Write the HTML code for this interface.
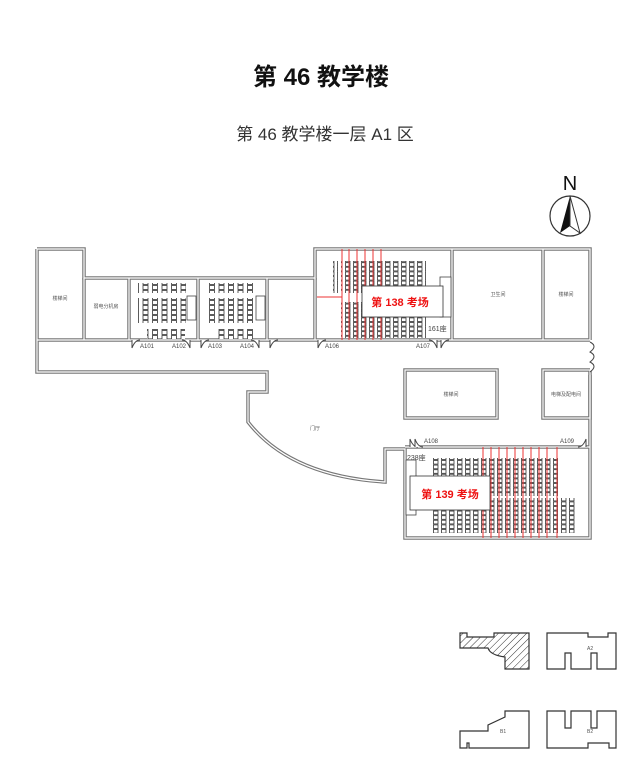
<!DOCTYPE html>
<html><head><meta charset="utf-8"><style>
html,body{margin:0;padding:0;background:#fff;}
svg{display:block;}
text{font-family:"Liberation Sans","Noto Sans CJK SC",sans-serif;}
</style></head><body>
<svg width="641" height="769" viewBox="0 0 641 769" xmlns="http://www.w3.org/2000/svg">
<defs>
<pattern id="d8" x="1" y="0" width="8" height="4.6" patternUnits="userSpaceOnUse">
<rect x="0.5" y="0.5" width="4.5" height="3.6" fill="#fff" stroke="#333" stroke-width="0.8"/>
</pattern>
<pattern id="dA" x="0" y="0" width="9.5" height="5" patternUnits="userSpaceOnUse">
<rect x="0.5" y="0.5" width="5" height="4" fill="#fff" stroke="#333" stroke-width="0.8"/>
</pattern>
<pattern id="hatch" width="5" height="5" patternUnits="userSpaceOnUse" patternTransform="rotate(45)">
<line x1="0" y1="0" x2="0" y2="5" stroke="#333" stroke-width="1"/>
</pattern>
</defs>

<text x="321" y="85" font-size="24" font-weight="bold" text-anchor="middle" fill="#111">第 46 教学楼</text>
<text x="325" y="140" font-size="17" text-anchor="middle" fill="#333">第 46 教学楼一层 A1 区</text>

<text x="570" y="190" font-size="20" text-anchor="middle" fill="#111">N</text>
<circle cx="570" cy="216" r="20" fill="none" stroke="#333" stroke-width="1.2"/>
<polygon points="570,196 560,233 570,226" fill="#111"/>
<polygon points="570,196 580,233 570,226" fill="none" stroke="#333" stroke-width="1"/>

<g fill="none" stroke="#777" stroke-width="3.5">
<path d="M37,249 H84 V278 H315 V249 H590 V340"/>
<path d="M590,375 V538 H405 V449 H385 V482 Q290,476 248,422 V392 H267 V372 H37 V249"/>
<path d="M405,447 H590"/>
<path d="M37,340 H590"/>
<path d="M84,278 V340 M129,278 V340 M198,278 V340 M267,278 V340 M315,278 V340 M452,249 V340 M543,249 V340"/>
<rect x="405" y="370" width="92" height="48"/>
<rect x="543" y="370" width="47" height="48"/>
</g>
<g fill="none" stroke="#fff" stroke-width="1.2">
<path d="M37,249 H84 V278 H315 V249 H590 V340"/>
<path d="M590,375 V538 H405 V449 H385 V482 Q290,476 248,422 V392 H267 V372 H37 V249"/>
<path d="M405,447 H590"/>
<path d="M37,340 H590"/>
<path d="M84,278 V340 M129,278 V340 M198,278 V340 M267,278 V340 M315,278 V340 M452,249 V340 M543,249 V340"/>
<rect x="405" y="370" width="92" height="48"/>
<rect x="543" y="370" width="47" height="48"/>
</g>

<g fill="#fff" stroke="#444" stroke-width="1">
<path d="M132,340 v8 q3,-8 8,-8" /><path d="M190,340 v8 q-3,-8 -8,-8"/>
<path d="M201,340 v8 q3,-8 8,-8" /><path d="M259,340 v8 q-3,-8 -8,-8"/>
<path d="M270,340 v8 q3,-8 8,-8" /><path d="M318,340 v8 q3,-8 8,-8"/>
<path d="M437,340 v8 q-3,-8 -8,-8"/><path d="M441,340 v8 q3,-8 8,-8"/>
<path d="M410,447 v-8 q3,8 8,8"/><path d="M415,447 v-8 q3,8 8,8"/>
<path d="M586,447 v-8 q-3,8 -8,8"/>
<path d="M590,342 q8,4 0,10 q8,4 0,10 q8,4 0,10"/>
</g>

<rect x="138" y="283" width="48" height="10" fill="url(#dA)"/>
<rect x="138" y="298" width="48" height="25" fill="url(#dA)"/>
<rect x="147" y="329" width="38" height="10" fill="url(#dA)"/>
<rect x="207" y="283" width="48" height="10" fill="url(#dA)"/>
<rect x="207" y="298" width="48" height="25" fill="url(#dA)"/>
<rect x="216" y="329" width="38" height="10" fill="url(#dA)"/>
<rect x="187" y="296" width="9" height="24" fill="#fff" stroke="#444" stroke-width="0.8"/>
<rect x="256" y="296" width="9" height="24" fill="#fff" stroke="#444" stroke-width="0.8"/>

<rect x="333" y="261" width="5" height="32" fill="url(#d8)"/>
<rect x="341" y="261" width="85" height="32" fill="url(#d8)"/>
<rect x="341" y="302" width="85" height="36" fill="url(#d8)"/>
<rect x="440" y="277" width="11" height="40" fill="#fff" stroke="#444" stroke-width="0.8"/>
<g stroke="#e33" stroke-width="1">
<line x1="342" y1="249" x2="342" y2="340"/><line x1="349" y1="249" x2="349" y2="340"/><line x1="357" y1="249" x2="357" y2="340"/><line x1="365" y1="249" x2="365" y2="340"/><line x1="373" y1="249" x2="373" y2="340"/><line x1="381" y1="249" x2="381" y2="340"/>
<line x1="317" y1="297" x2="342" y2="297"/>
</g>
<rect x="362" y="286" width="81" height="31" fill="#fff" stroke="#333" stroke-width="0.8"/>
<text x="400" y="306" font-size="11" font-weight="bold" fill="#e11" text-anchor="middle">第 138 考场</text>
<text x="428" y="331" font-size="7" fill="#444">161座</text>

<rect x="433" y="458" width="125" height="38" fill="url(#d8)"/>
<rect x="433" y="498" width="125" height="35" fill="url(#d8)"/>
<rect x="561" y="498" width="14" height="35" fill="url(#d8)"/>
<rect x="406" y="460" width="10" height="55" fill="#fff" stroke="#444" stroke-width="0.8"/>
<g stroke="#e33" stroke-width="1">
<line x1="483" y1="447" x2="483" y2="538"/><line x1="491" y1="447" x2="491" y2="538"/><line x1="499" y1="447" x2="499" y2="538"/><line x1="507" y1="447" x2="507" y2="538"/><line x1="515" y1="447" x2="515" y2="538"/><line x1="523" y1="447" x2="523" y2="538"/><line x1="531" y1="447" x2="531" y2="538"/><line x1="539" y1="447" x2="539" y2="538"/><line x1="547" y1="447" x2="547" y2="538"/><line x1="557" y1="447" x2="557" y2="538"/>
</g>
<rect x="410" y="476" width="80" height="34" fill="#fff" stroke="#333" stroke-width="0.8"/>
<text x="450" y="498" font-size="11" font-weight="bold" fill="#e11" text-anchor="middle">第 139 考场</text>
<text x="407" y="460" font-size="7" fill="#444">238座</text>

<g font-size="5" fill="#555" text-anchor="middle">
<text x="60" y="300">楼梯间</text><text x="106" y="308">弱电分机房</text>
<text x="498" y="296">卫生间</text><text x="566" y="296">楼梯间</text>
<text x="451" y="396">楼梯间</text><text x="566" y="396">电梯及配电间</text>
<text x="315" y="430">门厅</text>
</g>
<g font-size="6" fill="#444">
<text x="140" y="348">A101</text><text x="172" y="348">A102</text><text x="208" y="348">A103</text><text x="240" y="348">A104</text>
<text x="325" y="348">A106</text><text x="416" y="348">A107</text>
<text x="424" y="443">A108</text><text x="560" y="443">A109</text>
</g>

<g fill="none" stroke="#333" stroke-width="1.2">
<path d="M460,633 H467 V637 H494 V633 H529 V669 H505 V657 Q490,655 488,648 H460 Z" fill="url(#hatch)"/>
<path d="M547,633 H588 V637 H608 V633 H616 V669 H597 V653 H591 V669 H571 V653 H565 V669 H547 Z"/>
<path d="M505,711 H529 V748 H469 V743 H467 V748 H460 V731 H488 V725 L505,717 Z"/>
<path d="M547,711 H565 V728 H571 V711 H591 V728 H597 V711 H616 V748 H609 V743 H588 V748 H547 Z"/>
</g>
<text x="587" y="650" font-size="5" fill="#555">A2</text>
<text x="500" y="733" font-size="5" fill="#555">B1</text>
<text x="587" y="733" font-size="5" fill="#555">B2</text>
</svg>
</body></html>
